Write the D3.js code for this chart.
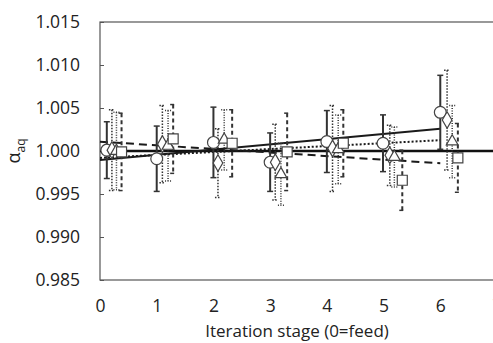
<!DOCTYPE html>
<html>
<head>
<meta charset="utf-8">
<script src="https://cdn.jsdelivr.net/npm/d3@7"></script>
<style>
  html, body { margin: 0; padding: 0; background: #fff; }
  svg { display: block; font-family: "Open Sans", sans-serif; }
</style>
</head>
<body>
<svg id="chart" width="493" height="343"></svg>
<script>
// Iteration stages and the isotope separation factor per series
const stages = [0, 1, 2, 3, 4, 5, 6];

const circleX   = [0.12, 1.00, 2.00, 3.00, 4.00, 4.99, 6.00];
const circleY   = [1.0001, 0.9991, 1.0010, 0.9987, 1.0011, 1.0009, 1.0045];
const circleErr = [0.0033, 0.0038, 0.0041, 0.0034, 0.0036, 0.0033, 0.0043];

const diamondX   = [0.21, 1.10, 2.08, 3.09, 4.10, 5.11, 6.12];
const diamondY   = [1.0001, 1.0008, 0.9986, 0.9987, 1.0003, 0.9995, 1.0036];
const diamondErr = [0.0047, 0.0045, 0.0040, 0.0044, 0.0050, 0.0035, 0.0058];

const triangleX   = [0.29, 1.20, 2.19, 3.19, 4.20, 5.19, 6.21];
const triangleY   = [1.0000, 1.0006, 1.0013, 0.9973, 1.0002, 0.9993, 1.0011];
const triangleErr = [0.0045, 0.0041, 0.0035, 0.0036, 0.0040, 0.0035, 0.0042];

const squareX   = [0.38, 1.29, 2.33, 3.30, 4.29, 5.33, 6.31];
const squareY   = [0.9999, 1.0014, 1.0009, 0.9999, 1.0009, 0.9966, 0.9992];
const squareErr = [0.0045, 0.0040, 0.0039, 0.0045, 0.0039, 0.0035, 0.0040];

const yTicks = [0.985, 0.990, 0.995, 1.000, 1.005, 1.010, 1.015];
const xTicks = [0, 1, 2, 3, 4, 5, 6, 7];

const svg = d3.select("#chart");
const x = d3.scaleLinear().domain([0, 7]).range([100, 497]);
const y = d3.scaleLinear().domain([0.985, 1.015]).range([280, 22]);

const axisColor = "#555";

// Plot frame
svg.append("rect")
  .attr("x", x(0)).attr("y", y(1.015))
  .attr("width", x(7) - x(0)).attr("height", y(0.985) - y(1.015))
  .attr("fill", "none").attr("stroke", axisColor).attr("stroke-width", 1.2);

// Y axis with inward ticks
const yAxis = d3.axisLeft(y).tickValues(yTicks).tickSizeInner(-4).tickSizeOuter(0)
  .tickPadding(20).tickFormat(d3.format(".3f"));
const gy = svg.append("g").attr("transform", `translate(${x(0)},0)`).call(yAxis);
gy.select(".domain").remove();
gy.selectAll("line").attr("stroke", axisColor);
gy.selectAll("text").attr("font-size", 17.5).attr("fill", "#222")
  .attr("font-family", "Open Sans, sans-serif");

// X axis labels below the frame
const xAxis = d3.axisBottom(x).tickValues(xTicks).tickSize(0).tickPadding(20)
  .tickFormat(d3.format("d"));
const gx = svg.append("g").attr("transform", `translate(0,${y(0.985)})`).call(xAxis);
gx.select(".domain").remove();
gx.selectAll("text").attr("font-size", 17.5).attr("fill", "#222")
  .attr("font-family", "Open Sans, sans-serif");

// Axis titles
svg.append("text")
  .attr("x", 297).attr("y", 337)
  .attr("text-anchor", "middle").attr("font-size", 17).attr("fill", "#222")
  .text("Iteration stage (0=feed)");

const yt = svg.append("text")
  .attr("transform", "translate(20,151) rotate(-90)")
  .attr("text-anchor", "middle").attr("font-size", 18).attr("fill", "#222");
yt.append("tspan").text("α");
yt.append("tspan").attr("font-size", 12).attr("dy", 5).text("aq");

// Least-squares trend over the stage numbers
function fit(xs, ys) {
  const mx = d3.mean(xs), my = d3.mean(ys);
  const sxy = d3.sum(xs, (v, i) => (v - mx) * (ys[i] - my));
  const sxx = d3.sum(xs, v => (v - mx) * (v - mx));
  const b = sxy / sxx;
  return t => my + b * (t - mx);
}

const plot = svg.append("g");

// Reference line at alpha = 1
plot.append("line")
  .attr("x1", x(0)).attr("x2", x(7))
  .attr("y1", y(1)).attr("y2", y(1))
  .attr("stroke", "#111").attr("stroke-width", 2.4);

const series = [
  { xs: circleX,   ys: circleY,   err: circleErr,   shape: d3.symbolCircle,
    size: 110, bar: { w: 2, dash: null },  trend: { w: 2, dash: null } },
  { xs: diamondX,  ys: diamondY,  err: diamondErr,  shape: d3.symbolDiamond,
    size: 80,  bar: { w: 1.5, dash: "1.5,1.5" }, trend: { w: 2, dash: "2,2" } },
  { xs: triangleX, ys: triangleY, err: triangleErr, shape: d3.symbolTriangle,
    size: 60,  bar: { w: 1.5, dash: "1,1.5" }, trend: null },
  { xs: squareX,   ys: squareY,   err: squareErr,   shape: d3.symbolSquare,
    size: 100, bar: { w: 2, dash: "4,3" }, trend: { w: 2, dash: "8,5" } }
];

// Trend lines
const line = d3.line().x(d => x(d[0])).y(d => y(d[1]));
series.forEach(s => {
  if (!s.trend) return;
  const f = fit(stages, s.ys);
  plot.append("path")
    .attr("d", line([[0, f(0)], [6, f(6)]]))
    .attr("fill", "none").attr("stroke", "#1a1a1a")
    .attr("stroke-width", s.trend.w)
    .attr("stroke-dasharray", s.trend.dash);
});

// Error bars
series.forEach(s => {
  const g = plot.append("g").attr("stroke", "#333").attr("stroke-width", s.bar.w)
    .attr("stroke-dasharray", s.bar.dash);
  s.ys.forEach((v, i) => {
    const cx = x(s.xs[i]);
    g.append("line").attr("x1", cx).attr("x2", cx)
      .attr("y1", y(v + s.err[i])).attr("y2", y(v - s.err[i]));
    [v + s.err[i], v - s.err[i]].forEach(e => {
      g.append("line").attr("x1", cx - 3).attr("x2", cx + 3)
        .attr("y1", y(e)).attr("y2", y(e)).attr("stroke-dasharray", null)
        .attr("stroke-width", 1.5);
    });
  });
});

// Markers
series.forEach(s => {
  plot.append("g").selectAll("path")
    .data(s.ys.map((v, i) => [s.xs[i], v]))
    .join("path")
    .attr("d", d3.symbol().type(s.shape).size(s.size))
    .attr("transform", d => `translate(${x(d[0])},${y(d[1])})`)
    .attr("fill", "#fff").attr("stroke", "#444").attr("stroke-width", 1.2);
});
</script>
</body>
</html>
